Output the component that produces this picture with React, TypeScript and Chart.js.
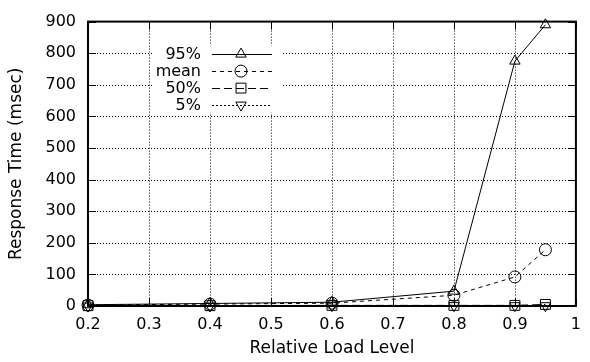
import React, { useEffect, useRef } from 'react';
import { Chart, registerables } from 'chart.js';
import { drawPoint } from 'chart.js/helpers';

Chart.register(...registerables);

const loadLevels = [0.2, 0.4, 0.6, 0.8, 0.9, 0.95];
const p95 = [4, 8, 12, 47, 775, 890];
const meanVals = [3, 6, 9, 34, 92, 178];
const p50 = [1, 1, 2, 2, 2, 5];
const p5 = [0, 0, 1, 1, 1, 1];
const seriesLabels = ['95%', 'mean', '50%', '5%'];
const xTitle = 'Relative Load Level';
const yTitle = 'Response Time (msec)';

const FONT = "'DejaVu Sans', 'Liberation Sans', Arial, sans-serif";

const seriesStyles = [
  { dash: [] as number[], point: 'triangle', rotation: 0, radius: 6 },
  { dash: [4, 4], point: 'circle', rotation: 0, radius: 6 },
  { dash: [8, 4], point: 'rect', rotation: 0, radius: 7 },
  { dash: [2, 2], point: 'triangle', rotation: 180, radius: 6 },
];

const framePlugin = {
  id: 'gnuFrame',
  beforeDatasetsDraw(chart: any) {
    const { ctx, chartArea: a, scales } = chart;
    const x = scales.x;
    const y = scales.y;
    ctx.save();
    ctx.strokeStyle = '#000';
    ctx.lineWidth = 1;
    ctx.setLineDash([1, 2]);
    x.ticks.forEach((t: any) => {
      if (t.value > x.min + 1e-9 && t.value < x.max - 1e-9) {
        const px = Math.round(x.getPixelForValue(t.value)) + 0.5;
        ctx.beginPath();
        ctx.moveTo(px, a.top);
        ctx.lineTo(px, a.bottom);
        ctx.stroke();
      }
    });
    y.ticks.forEach((t: any) => {
      if (t.value > y.min && t.value < y.max) {
        const py = Math.round(y.getPixelForValue(t.value)) + 0.5;
        ctx.beginPath();
        ctx.moveTo(a.left, py);
        ctx.lineTo(a.right, py);
        ctx.stroke();
      }
    });
    ctx.setLineDash([]);
    const TL = 8;
    x.ticks.forEach((t: any) => {
      const px = Math.round(x.getPixelForValue(t.value)) + 0.5;
      ctx.beginPath();
      ctx.moveTo(px, a.bottom);
      ctx.lineTo(px, a.bottom - TL);
      ctx.moveTo(px, a.top);
      ctx.lineTo(px, a.top + TL);
      ctx.stroke();
    });
    y.ticks.forEach((t: any) => {
      const py = Math.round(y.getPixelForValue(t.value)) + 0.5;
      ctx.beginPath();
      ctx.moveTo(a.left, py);
      ctx.lineTo(a.left + TL, py);
      ctx.moveTo(a.right, py);
      ctx.lineTo(a.right - TL, py);
      ctx.stroke();
    });
    ctx.lineWidth = 2;
    ctx.strokeRect(a.left, a.top, a.right - a.left, a.bottom - a.top);
    ctx.restore();
  },
  afterDatasetsDraw(chart: any) {
    const { ctx, chartArea: a } = chart;
    ctx.save();
    const boxL = a.left + 65;
    const boxT = a.top + 24;
    ctx.fillStyle = '#fff';
    ctx.fillRect(boxL, boxT, 130, 67);
    const textRight = a.left + 113;
    const lineL = a.left + 124;
    const lineR = a.left + 184;
    const markX = a.left + 153;
    ctx.font = `16px ${FONT}`;
    ctx.textAlign = 'right';
    ctx.textBaseline = 'middle';
    ctx.strokeStyle = '#000';
    seriesLabels.forEach((lab, i) => {
      const ry = a.top + 32.5 + i * 17;
      ctx.fillStyle = '#000';
      ctx.fillText(lab, textRight, ry + 1);
      const st = seriesStyles[i];
      ctx.lineWidth = 1;
      ctx.setLineDash(st.dash);
      ctx.beginPath();
      ctx.moveTo(lineL, Math.round(ry) + 0.5);
      ctx.lineTo(lineR, Math.round(ry) + 0.5);
      ctx.stroke();
      ctx.setLineDash([]);
      ctx.fillStyle = 'rgba(0,0,0,0)';
      drawPoint(ctx, { pointStyle: st.point, rotation: st.rotation, radius: st.radius, borderWidth: 1 } as any, markX, ry);
    });
    ctx.restore();
  },
};

export default function App() {
  const ref = useRef<HTMLCanvasElement>(null);
  useEffect(() => {
    document.body.style.margin = '0';
    const seriesData = [p95, meanVals, p50, p5];
    const chart = new Chart(ref.current as HTMLCanvasElement, {
      type: 'line',
      data: {
        datasets: seriesLabels.map((lab, i) => ({
          label: lab,
          data: loadLevels.map((lx, j) => ({ x: lx, y: seriesData[i][j] })),
          borderColor: '#000',
          borderWidth: 1,
          borderDash: seriesStyles[i].dash,
          pointStyle: seriesStyles[i].point as any,
          rotation: seriesStyles[i].rotation,
          pointRadius: seriesStyles[i].radius,
          pointBorderWidth: 1,
          pointBorderColor: '#000',
          pointBackgroundColor: 'rgba(0,0,0,0)',
          fill: false,
          tension: 0,
          clip: false as any,
        })),
      },
      options: {
        animation: false,
        responsive: false,
        layout: { padding: { left: 0, top: 13, right: 3, bottom: 0 } },
        plugins: { legend: { display: false }, tooltip: { enabled: false } },
        scales: {
          x: {
            type: 'linear',
            min: 0.2,
            max: 1,
            grid: { display: false, drawTicks: false },
            border: { display: false },
            ticks: {
              stepSize: 0.1,
              padding: 9,
              color: '#000',
              font: { family: FONT, size: 16 },
              maxRotation: 0,
              autoSkip: false,
              callback: (v: any) => String(Number(Number(v).toFixed(1))),
            },
            title: {
              display: true,
              text: xTitle,
              color: '#000',
              font: { family: FONT, size: 17 },
              padding: { top: 0, bottom: 3 },
            },
            afterFit: (s: any) => { s.height = 56; },
          },
          y: {
            type: 'linear',
            min: 0,
            max: 900,
            grid: { display: false, drawTicks: false },
            border: { display: false },
            ticks: {
              stepSize: 100,
              padding: 12,
              color: '#000',
              font: { family: FONT, size: 16 },
            },
            title: {
              display: true,
              text: yTitle,
              color: '#000',
              font: { family: FONT, size: 17 },
              padding: { top: 6, bottom: 0 },
            },
            afterFit: (s: any) => { s.width = 88; },
          },
        },
      },
      plugins: [framePlugin],
    });
    return () => chart.destroy();
  }, []);
  return (
    <div style={{ position: 'fixed', left: 0, top: 0, width: 590, height: 362, background: '#fff' }}>
      <canvas ref={ref} width={590} height={362} />
    </div>
  );
}
